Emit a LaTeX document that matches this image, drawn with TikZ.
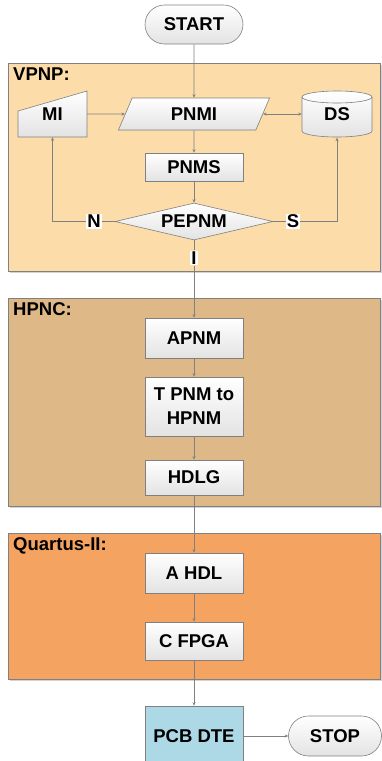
\documentclass[tikz,border=0pt]{standalone}
\usepackage{fontspec}
\setmainfont{Liberation Sans}
\usetikzlibrary{shapes.geometric,shapes.misc,arrows.meta,shadows}
\definecolor{vpnp}{HTML}{FCDCA9}
\definecolor{hpnc}{HTML}{DEB887}
\definecolor{quart}{HTML}{F4A460}
\definecolor{pcb}{HTML}{ADD8E6}
\definecolor{edge}{HTML}{808080}
\tikzset{
  txt/.style={font=\fontsize{18.5}{24}\selectfont\bfseries, align=center},
  boxnode/.style={txt, draw=edge, line width=0.6pt, top color=white, bottom color=gray!22, inner sep=0pt},
  procbox/.style={boxnode, rectangle, minimum width=98pt},
  term/.style={boxnode, rounded rectangle},
  group/.style={draw=edge, line width=0.6pt, drop shadow={shadow xshift=1.5pt, shadow yshift=-1.5pt, opacity=0.35}},
  grouplab/.style={txt, anchor=north west, inner sep=0pt},
  conn/.style={draw=edge, line width=0.6pt},
  arr/.style={conn, -{Stealth[length=3.5pt,width=3pt]}},
  arrtwo/.style={conn, {Stealth[length=3.5pt,width=3pt]}-{Stealth[length=3.5pt,width=3pt]}},
  lab/.style={txt, fill=white, inner sep=1pt}
}
\begin{document}
\begin{tikzpicture}[x=1pt,y=-1pt]
\useasboundingbox (0,0) rectangle (382,761);
\clip (0,0) rectangle (382,761);
% groups
\path[group, fill=vpnp] (8,63) rectangle (380,271);
\node[grouplab] (gvpnp) at (13,68) {VPNP:};
\path[group, fill=hpnc] (8,298) rectangle (380,506);
\node[grouplab] (ghpnc) at (13,302) {HPNC:};
\path[group, fill=quart] (8,533) rectangle (380,679);
\node[grouplab] (gquart) at (13,537) {Quartus-II:};

% terminals
\node[term, minimum width=98pt, minimum height=39pt] (start) at (194,24.5) {START};
\node[term, minimum width=93pt, minimum height=40pt] (stop) at (335,736) {STOP};

% MI manual input
\path[draw=edge, line width=0.6pt, top color=white, bottom color=gray!22] (18,111) -- (87,91) -- (87,137) -- (18,137) -- cycle;
\node[txt, minimum width=69pt, minimum height=46pt, inner sep=0pt] (mi) at (52.5,114) {MI};

% DS cylinder
\path[draw=edge, line width=0.6pt, top color=white, bottom color=gray!22]
  (302,97) -- (302,131) arc[start angle=180,end angle=360,x radius=35pt,y radius=6pt]
  -- (372,97) arc[start angle=0,end angle=180,x radius=35pt,y radius=6pt] -- cycle;
\draw[edge, line width=0.6pt] (302,97) arc[start angle=180,end angle=360,x radius=35pt,y radius=6pt];
\node[txt, minimum width=70pt, minimum height=46pt, inner sep=0pt] (ds) at (337,114.5) {DS};

% PNMI parallelogram
\node[boxnode, trapezium, trapezium left angle=68, trapezium right angle=112, trapezium stretches=true, minimum width=152pt, minimum height=32pt] (pnmi) at (194,114) {PNMI};

\node[procbox, minimum height=28pt] (pnms) at (194,167) {PNMS};
\node[boxnode, diamond, aspect=4.3, minimum width=158pt, minimum height=37pt] (pepnm) at (194,221.5) {PEPNM};

\node[lab] (nlab) at (94,221.5) {N};
\node[lab] (slab) at (293,221.5) {S};
\node[lab] (ilab) at (194,258) {I};

\node[procbox, minimum height=40pt] (apnm) at (194,338) {APNM};
\node[procbox, minimum height=59pt] (tpnm) at (194,406.5) {T PNM to\\HPNM};
\node[procbox, minimum height=35pt] (hdlg) at (194,477.5) {HDLG};
\node[procbox, minimum height=40pt] (ahdl) at (194,573) {A HDL};
\node[procbox, minimum height=38pt] (cfpga) at (194,641) {C FPGA};
\node[procbox, top color=pcb, bottom color=pcb, fill=pcb, minimum height=60pt] (pcbdte) at (194,736) {PCB DTE};

% connectors
\draw[arr] (start) -- (pnmi);
\draw[arr] (mi.east) -- (pnmi.west);
\draw[arrtwo] (pnmi.east) -- (ds.west |- pnmi.east);
\draw[arr] (pnmi) -- (pnms);
\draw[arr] (pnms) -- (pepnm);
\draw[conn] (pepnm.west) -- (nlab.east);
\draw[arr] (nlab.west) -| (mi.south);
\draw[conn] (pepnm.east) -- (slab.west);
\draw[arr] (slab.east) -| (ds.south);
\draw[conn] (pepnm.south) -- (ilab.north);
\draw[arr] (ilab.south) -- (apnm.north);
\draw[arr] (apnm) -- (tpnm);
\draw[arr] (tpnm) -- (hdlg);
\draw[arr] (hdlg) -- (ahdl);
\draw[arr] (ahdl) -- (cfpga);
\draw[arr] (cfpga) -- (pcbdte);
\draw[arr] (pcbdte.east |- stop.west) -- (stop.west);
\end{tikzpicture}
\end{document}
